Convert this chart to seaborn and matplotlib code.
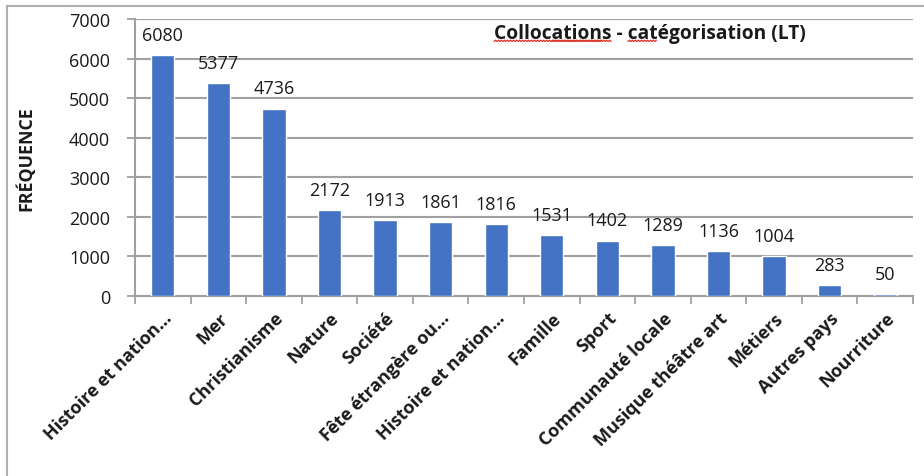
import matplotlib
matplotlib.use("Agg")
import matplotlib.pyplot as plt
from matplotlib.lines import Line2D
import numpy as np
import pandas as pd
import seaborn as sns

categories = [
    "Histoire et nation…", "Mer", "Christianisme", "Nature", "Société",
    "Fête étrangère ou…", "Histoire et nation…", "Famille", "Sport",
    "Communauté locale", "Musique théâtre art", "Métiers", "Autres pays",
    "Nourriture",
]
frequencies = [6080, 5377, 4736, 2172, 1913, 1861, 1816, 1531, 1402, 1289,
               1136, 1004, 283, 50]
y_ticks = [0, 1000, 2000, 3000, 4000, 5000, 6000, 7000]

title = "Collocations - catégorisation (LT)"
y_label = "FRÉQUENCE"

sns.set_theme(style="white")
plt.rcParams["font.family"] = ["Open Sans", "DejaVu Sans"]

bar_color = "#4472C4"
grid_color = "#A0A0A0"
text_color = "#1a1a1a"

# Position index keeps the two "Histoire et nation…" bars separate
df = pd.DataFrame({
    "pos": [str(i) for i in range(len(categories))],
    "freq": frequencies,
})

fig = plt.figure(figsize=(9.24, 4.77), dpi=100)
ax = fig.add_axes([135 / 924, 1 - 297 / 477, (913 - 135) / 924, (297 - 20) / 477])

sns.barplot(data=df, x="pos", y="freq", color=bar_color, saturation=1,
            width=0.42, ax=ax, zorder=3)

ax.set_xlim(-0.5, len(categories) - 0.5)
ax.set_ylim(0, 7000)
ax.set_yticks(y_ticks)
ax.set_yticklabels([str(v) for v in y_ticks], fontsize=13, color=text_color)

# Horizontal gridlines
ax.yaxis.grid(True, color=grid_color, linewidth=1.5, zorder=0)
ax.xaxis.grid(False)
ax.set_axisbelow(True)

# Category labels, rotated, with tick marks between categories
ax.set_xticks(np.arange(len(categories)))
ax.set_xticklabels(categories, rotation=45, ha="right", rotation_mode="anchor",
                   fontsize=13, fontweight="bold", color=text_color)
ax.tick_params(axis="x", length=0, pad=9)
ax.set_xticks(np.arange(len(categories) + 1) - 0.5, minor=True)
ax.tick_params(axis="x", which="minor", length=6, width=1.3, color=grid_color,
               direction="out", bottom=True)
ax.tick_params(axis="y", length=6, width=1.3, color=grid_color,
               direction="out", left=True, pad=12)

for side in ["top", "right"]:
    ax.spines[side].set_visible(False)
for side in ["left", "bottom"]:
    ax.spines[side].set_color(grid_color)
    ax.spines[side].set_linewidth(1.5)

ax.set_xlabel("")
ax.set_ylabel(y_label, fontsize=12.8, fontweight="bold", color=text_color,
              labelpad=24)

# Value labels above bars
for container in ax.containers:
    ax.bar_label(container, labels=[str(v) for v in frequencies],
                 padding=8, fontsize=13, color=text_color)

title_x, title_y = 650 / 924, 1 - 34 / 477
title_kw = dict(fontsize=13.8, fontweight="bold", color=text_color)
title_text = fig.text(title_x, title_y, title, ha="center", va="center",
                      **title_kw)

# Red wavy spell-check underlines beneath parts of the title
fig.canvas.draw()
renderer = fig.canvas.get_renderer()
tb = title_text.get_window_extent(renderer)


def prefix_width(s):
    if not s:
        return 0.0
    t = fig.text(0, 0, s, **title_kw)
    w = t.get_window_extent(renderer).width
    t.remove()
    return w


underlined = [("Collocations", 0), ("cat", title.index("catégorisation")),
              ("ation", title.index("ation"))]
base_y = tb.y0 + 1.5
for word, start in underlined:
    x0 = tb.x0 + prefix_width(title[:start])
    x1 = tb.x0 + prefix_width(title[:start + len(word)])
    xs = np.arange(x0, x1 + 0.01, 1.5)
    ys = base_y + np.where(np.arange(len(xs)) % 2 == 0, 0.0, 1.3)
    fig.add_artist(Line2D(xs / fig.bbox.width, ys / fig.bbox.height,
                          color="#D93025", linewidth=0.9,
                          transform=fig.transFigure))

# Outer chart frame
frame_kw = dict(color="#B0B0B0", linewidth=1.5, transform=fig.transFigure)
fig.add_artist(Line2D([7 / 924, 1], [1 - 7 / 477, 1 - 7 / 477], **frame_kw))
fig.add_artist(Line2D([7 / 924, 7 / 924], [0, 1 - 7 / 477], **frame_kw))

fig.savefig("out.png", dpi=100, facecolor="white")
